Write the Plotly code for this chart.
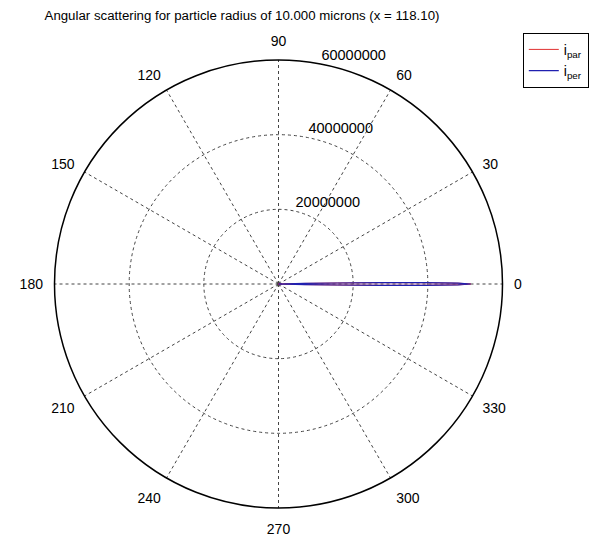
import plotly.graph_objects as go

# Scattering angle (degrees) and intensities (forward lobe dominates)
theta_deg = [0, 0.25, 0.5, 0.75, 1.0, 1.25, 1.5, 1.75, 2.0, 2.5, 3.0, 4.0, 5.0, 10, 20, 45, 90, 135, 180]
i_par = [51.5e6, 48.2e6, 39.3e6, 27.4e6, 15.8e6, 7.1e6, 2.0e6, 0.15e6, 0.03e6, 0.85e6, 0.2e6,
         0.3e6, 0.1e6, 0.02e6, 0.005e6, 0.001e6, 0.0005e6, 0.0003e6, 0.01e6]
i_per = [51.5e6, 48.1e6, 39.2e6, 27.3e6, 15.7e6, 7.0e6, 2.0e6, 0.14e6, 0.03e6, 0.84e6, 0.2e6,
         0.3e6, 0.1e6, 0.02e6, 0.004e6, 0.0008e6, 0.0002e6, 0.0003e6, 0.01e6]

angle_ticks = [0, 30, 60, 90, 120, 150, 180, 210, 240, 270, 300, 330]
radial_ticks = [20000000, 40000000, 60000000]
radial_labels = ["20000000", "40000000", "60000000"]
radial_label_angle = 80

title_text = "Angular scattering for particle radius of 10.000 microns (x = 118.10)"

# mirror the 0..180 curve onto 180..360
full_theta = theta_deg + [360 - t for t in reversed(theta_deg)]
full_par = i_par + list(reversed(i_par))
full_per = i_per + list(reversed(i_per))

font_family = "Liberation Sans, Arial, sans-serif"

fig = go.Figure()
fig.add_trace(go.Scatterpolar(r=full_par, theta=full_theta, mode="lines",
                              line=dict(color="#e03030", width=1), name="i<sub>par</sub>"))
fig.add_trace(go.Scatterpolar(r=full_per, theta=full_theta, mode="lines",
                              line=dict(color="#2020b0", width=1.2), name="i<sub>per</sub>"))
# radial tick labels, MATLAB style (above-right of each ring at 80 deg)
fig.add_trace(go.Scatterpolar(r=radial_ticks, theta=[radial_label_angle] * len(radial_ticks),
                              mode="text", text=[" " + s for s in radial_labels],
                              textposition="top right",
                              textfont=dict(size=14.5, family=font_family, color="black"),
                              showlegend=False, hoverinfo="skip"))

cx, cy_from_bottom, rad = 270.5, 263, 224

fig.update_layout(
    width=600, height=539,
    margin=dict(l=0, r=0, t=0, b=0),
    paper_bgcolor="white",
    plot_bgcolor="white",
    font=dict(family=font_family, size=14, color="black"),
    title=dict(text=title_text, x=0.39, xanchor="center", y=0.986, yanchor="middle",
               font=dict(size=13.25, family=font_family, color="black")),
    showlegend=True,
    legend=dict(x=0.858, y=0.954, xanchor="left", yanchor="top",
                bordercolor="black", borderwidth=1, bgcolor="white",
                font=dict(size=14, family=font_family), tracegroupgap=0),
    polar=dict(
        domain=dict(x=[(cx - rad) / 600, (cx + rad) / 600],
                    y=[(cy_from_bottom - rad) / 539, (cy_from_bottom + rad) / 539]),
        bgcolor="white",
        radialaxis=dict(
            range=[0, 60000000], tickvals=radial_ticks, showticklabels=False,
            angle=radial_label_angle, showline=False, ticks="",
            showgrid=True, gridcolor="#444444", griddash="dot", gridwidth=1,
        ),
        angularaxis=dict(
            tickmode="array", tickvals=angle_ticks, ticktext=[str(a) for a in angle_ticks],
            direction="counterclockwise", rotation=0,
            showline=True, linecolor="black", linewidth=1.5,
            ticks="outside", ticklen=8, tickcolor="rgba(0,0,0,0)",
            showgrid=True, gridcolor="#444444", griddash="dot", gridwidth=1,
            tickfont=dict(size=14, family=font_family, color="black"),
        ),
    ),
)

fig.write_html("out.html")
